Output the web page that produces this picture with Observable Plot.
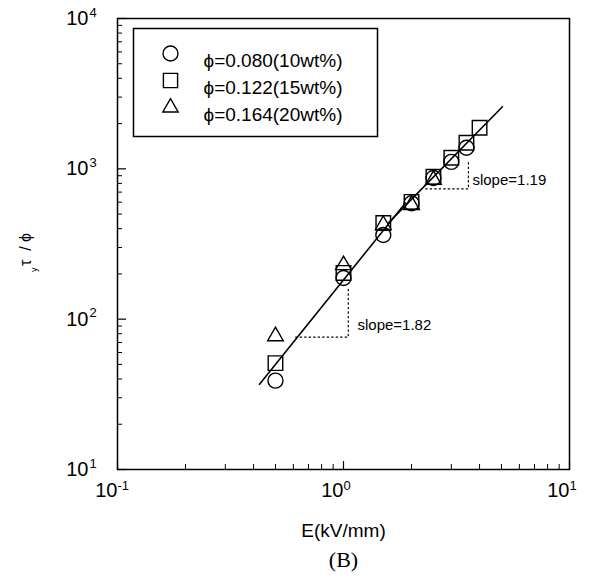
<!DOCTYPE html>
<html><head><meta charset="utf-8">
<script src="https://cdn.jsdelivr.net/npm/d3@7"></script>
<script src="https://cdn.jsdelivr.net/npm/@observablehq/plot@0.6"></script>
<style>
body{margin:0;background:#fff;}
#wrap{width:589px;height:587px;}
g[aria-label="legend-text"] text{letter-spacing:1.2px;}
g[aria-label="xlabel"] text{letter-spacing:1.5px;}
</style></head><body><div id="wrap"></div>
<script>
// ---- data ----
const E_circle = [0.5, 1, 1.5, 2, 2.5, 3, 3.5];
const tau_circle = [39, 188, 363, 590, 870, 1113, 1380];
const E_square = [0.5, 1, 1.5, 2, 2.5, 3, 3.5, 4];
const tau_square = [51, 203, 436, 603, 885, 1184, 1490, 1876];
const E_triangle = [0.5, 1, 1.5, 2, 2.5];
const tau_triangle = [77, 229, 423, 575, 845];
const seriesLabels = ["ϕ=0.080(10wt%)", "ϕ=0.122(15wt%)", "ϕ=0.164(20wt%)"];

const fit1E = [0.425, 1.88];
const fit1Tau = [36.9, 593];
const fit2E = [1.58, 5.05];
const fit2Tau = [437, 2590];

const slope1E = [0.614, 1.05, 1.05];
const slope1Tau = [76, 76, 163];
const slope2E = [2.31, 3.57, 3.57];
const slope2Tau = [736, 736, 1148];
const slopeLabels = ["slope=1.82", "slope=1.19"];
const slopeLabelE = [1.153, 3.72];
const slopeLabelTau = [91, 845];

const xTicks = [0.1, 1, 10];
const xExps = ["-1", "0", "1"];
const yTicks = [10, 100, 1000, 10000];
const yExps = ["1", "2", "3", "4"];

// ---- layout ----
const W = 589, H = 587;
const mL = 117, mR = 20, mT = 18, mB = 118;
const plotW = W - mL - mR, plotH = H - mT - mB;
const font = "'Liberation Sans', Arial, Helvetica, sans-serif";

const pts = (E, T) => E.map((e, i) => ({E: e, tau: T[i]}));
const minorX = [0.1, 1].flatMap(d => [2,3,4,5,6,7,8,9].map(k => d * k));
const minorY = [10, 100, 1000].flatMap(d => [2,3,4,5,6,7,8,9].map(k => d * k));

const legendSymbols = ["circle", "square", "triangle"];
const legendR = [7.5, 8.0, 5.7];
const legendDy = [35, 62, 89];
const symStyle = {stroke: "#000", strokeWidth: 1.4, fill: "none"};

const marks = [
  Plot.frame({stroke: "#000", strokeWidth: 1.5}),
  // ticks (inward)
  Plot.tickY(yTicks, {y: d => d, insetRight: plotW - 9, stroke: "#000", strokeWidth: 1.2}),
  Plot.tickY(minorY, {y: d => d, insetRight: plotW - 5, stroke: "#000", strokeWidth: 1}),
  Plot.tickX(xTicks, {x: d => d, insetTop: plotH - 8, stroke: "#000", strokeWidth: 1.2}),
  Plot.tickX(minorX, {x: d => d, insetTop: plotH - 5, stroke: "#000", strokeWidth: 1}),
  // tick labels
  Plot.text(xTicks, {x: d => d, frameAnchor: "bottom", dy: 27, text: () => "10", textAnchor: "end", fontSize: 20}),
  Plot.text(xTicks, {x: d => d, frameAnchor: "bottom", dy: 20, text: (d, i) => xExps[i], textAnchor: "start", fontSize: 13}),
  Plot.text(yTicks, {y: d => d, frameAnchor: "left", dx: -29, text: () => "10", textAnchor: "end", fontSize: 20}),
  Plot.text(yTicks, {y: d => d, frameAnchor: "left", dx: -28, dy: -6, text: (d, i) => yExps[i], textAnchor: "start", fontSize: 13}),
  // axis labels
  Plot.text(["τ  / ϕ"], {text: d => d, frameAnchor: "left", dx: -92, dy: 22, rotate: -90, fontSize: 16}),
  Plot.text(["y"], {text: d => d, frameAnchor: "left", dx: -83, dy: 28, rotate: -90, fontSize: 9}),
  Plot.text(["E(kV/mm)"], {text: d => d, frameAnchor: "bottom", dy: 67, fontSize: 19, ariaLabel: "xlabel"}),
  Plot.text(["(B)"], {text: d => d, frameAnchor: "bottom", dy: 97, fontSize: 22, fontFamily: "'Liberation Serif', 'Times New Roman', serif"}),
  // fit lines
  Plot.line(pts(fit1E, fit1Tau), {x: "E", y: "tau", stroke: "#000", strokeWidth: 1.6}),
  Plot.line(pts(fit2E, fit2Tau), {x: "E", y: "tau", stroke: "#000", strokeWidth: 1.6}),
  // slope triangles
  Plot.line(pts(slope1E, slope1Tau), {x: "E", y: "tau", stroke: "#000", strokeWidth: 1.2, strokeDasharray: "1.5,3"}),
  Plot.line(pts(slope2E, slope2Tau), {x: "E", y: "tau", stroke: "#000", strokeWidth: 1.2, strokeDasharray: "1.5,3"}),
  Plot.text(slopeLabels.map((s, i) => ({s, E: slopeLabelE[i], tau: slopeLabelTau[i]})),
    {x: "E", y: "tau", text: "s", textAnchor: "start", fontSize: 15}),
  // data
  Plot.dot(pts(E_circle, tau_circle), {x: "E", y: "tau", symbol: "circle", r: 7.5, ...symStyle}),
  Plot.dot(pts(E_square, tau_square), {x: "E", y: "tau", symbol: "square", r: 8.2, ...symStyle}),
  Plot.dot(pts(E_triangle, tau_triangle), {x: "E", y: "tau", symbol: "triangle", r: 5.8, ...symStyle}),
  // legend box
  Plot.frame({insetLeft: 16, insetTop: 10, insetRight: 569 - 377, insetBottom: 469 - 136, fill: "white", stroke: "#000", strokeWidth: 1.5}),
  ...seriesLabels.flatMap((lab, i) => [
    Plot.dot([lab], {frameAnchor: "top-left", dx: 53, dy: legendDy[i], symbol: legendSymbols[i], r: legendR[i], ...symStyle}),
    Plot.text([lab], {text: d => d, frameAnchor: "top-left", dx: 86, dy: legendDy[i], textAnchor: "start", fontSize: 19, ariaLabel: "legend-text"})
  ])
];

const chart = Plot.plot({
  width: W, height: H,
  marginLeft: mL, marginRight: mR, marginTop: mT, marginBottom: mB,
  x: {type: "log", domain: [0.1, 10], axis: null},
  y: {type: "log", domain: [10, 10000], axis: null},
  style: {fontFamily: font, background: "#fff", color: "#000", overflow: "visible"},
  marks
});
document.getElementById("wrap").appendChild(chart);
</script>
</body></html>
